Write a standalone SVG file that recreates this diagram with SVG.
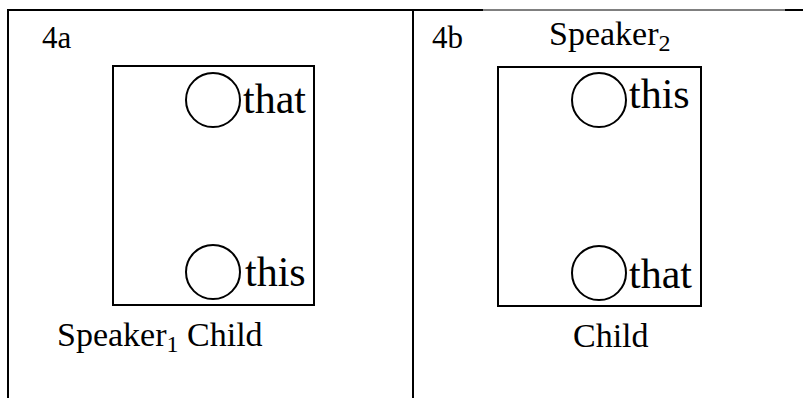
<svg xmlns="http://www.w3.org/2000/svg" width="803" height="398" viewBox="0 0 803 398">
<style>
.t{font-family:"Liberation Serif","Times New Roman",serif;fill:#000}
.frame{stroke:#000;stroke-width:2;fill:none}
.thin{stroke:#000;stroke-width:1;fill:none}
.box{stroke:#000;stroke-width:2;fill:none}
.c{stroke:#000;stroke-width:2;fill:none}
</style>
<rect width="803" height="398" fill="#fff"/>
<g id="frame">
<line class="frame" x1="8" y1="10" x2="483" y2="10"/>
<line class="thin" x1="483" y1="10" x2="785" y2="10"/>
<line class="frame" x1="785" y1="10" x2="803" y2="10"/>
<line class="frame" x1="8" y1="9" x2="8" y2="398"/>
<line class="frame" x1="413" y1="9" x2="413" y2="398"/>
</g>
<g id="panel-4a">
<text class="t" x="42" y="48" font-size="31">4a</text>
<rect class="box" x="113" y="66" width="201" height="239"/>
<g id="a-that"><circle class="c" cx="213" cy="100" r="27"/><text class="t" x="243" y="113" font-size="42">that</text></g>
<g id="a-this"><circle class="c" cx="213" cy="272" r="27"/><text class="t" x="245" y="286" font-size="42">this</text></g>
<text class="t" x="57" y="346" font-size="34">Speaker<tspan font-size="24" dy="6">1</tspan><tspan dy="-6"> Child</tspan></text>
</g>
<g id="panel-4b">
<text class="t" x="432" y="48" font-size="31">4b</text>
<text class="t" x="549" y="45" font-size="34">Speaker<tspan font-size="24" dy="6">2</tspan></text>
<rect class="box" x="498" y="67" width="203" height="239"/>
<g id="b-this"><circle class="c" cx="599" cy="100" r="27"/><text class="t" x="629" y="108" font-size="42">this</text></g>
<g id="b-that"><circle class="c" cx="599" cy="273" r="27"/><text class="t" x="629" y="288" font-size="42">that</text></g>
<text class="t" x="573" y="347" font-size="34">Child</text>
</g>
</svg>
